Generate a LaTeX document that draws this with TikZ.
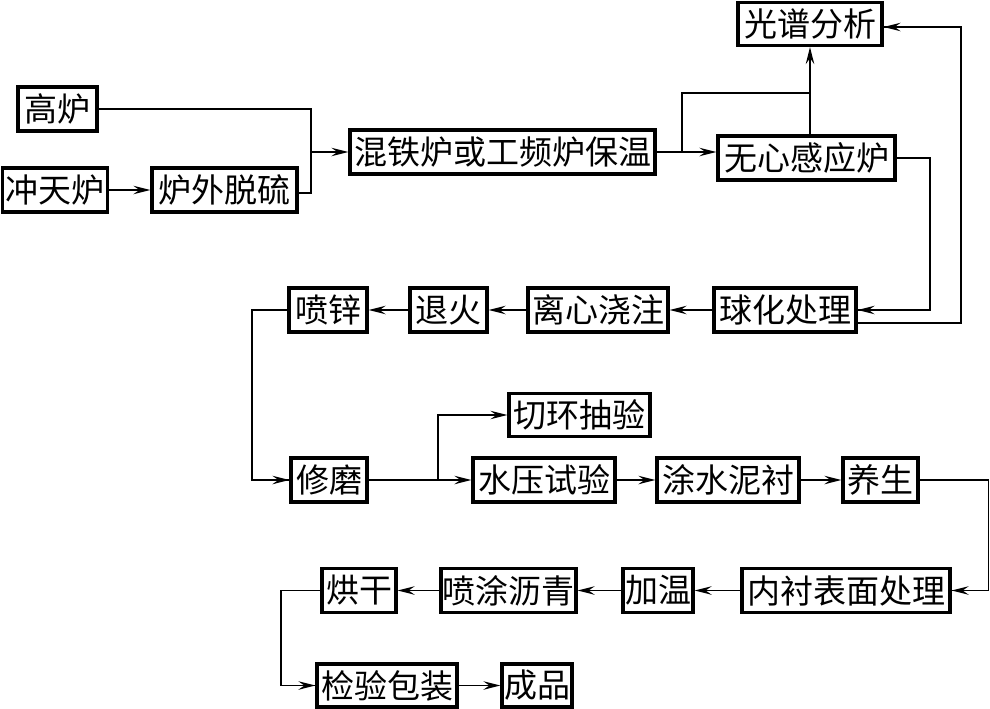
\documentclass[tikz,border=0pt]{standalone}
\usepackage{fontspec}
\newfontfamily\cjk{Noto Sans CJK SC}
\usetikzlibrary{arrows.meta,calc}
\begin{document}
\begin{tikzpicture}[x=1pt,y=-1pt,
  box/.style={draw, line width=3.2pt, minimum height=44pt, inner sep=0pt,
    font=\cjk\fontsize{33}{33}\selectfont},
  conn/.style={line width=1.8pt},
  thinc/.style={line width=1.2pt},
  arr/.style={-{Stealth[length=17pt,width=8.5pt,inset=6pt]}}]
\useasboundingbox (0,0) rectangle (990,709);
% nodes
\node[box, minimum width=79pt]  (gaolu)     at (57.5,109)   {高炉};
\node[box, minimum width=105pt] (chongtian) at (55,190)     {冲天炉};
\node[box, minimum width=145pt] (tuoliu)    at (224.5,190)  {炉外脱硫};
\node[box, minimum width=305pt] (huntie)    at (502.5,152)  {混铁炉或工频炉保温};
\node[box, minimum width=144pt, minimum height=43pt] (guangpu) at (810,24) {光谱分析};
\node[box, minimum width=177pt] (wuxin)     at (806.5,158)  {无心感应炉};
\node[box, minimum width=142pt] (qiuhua)    at (785,310)    {球化处理};
\node[box, minimum width=140pt] (lixin)     at (598,310)    {离心浇注};
\node[box, minimum width=77pt]  (tuihuo)    at (448.5,310)  {退火};
\node[box, minimum width=78pt]  (penxin)    at (328,310)    {喷锌};
\node[box, minimum width=76pt]  (xiumo)     at (329,480)    {修磨};
\node[box, minimum width=141pt, minimum height=43pt] (qiehuan) at (579.5,415) {切环抽验};
\node[box, minimum width=142pt] (shuiya)    at (544,480)    {水压试验};
\node[box, minimum width=142pt] (tushui)    at (728,480)    {涂水泥衬};
\node[box, minimum width=75pt]  (yangsheng) at (880.5,480)  {养生};
\node[box, minimum width=208pt] (neichen)   at (846,590.5)  {内衬表面处理};
\node[box, minimum width=70pt]  (jiawen)    at (658,590.5)  {加温};
\node[box, minimum width=135pt] (penlq)     at (508.5,590.5){喷涂沥青};
\node[box, minimum width=74pt]  (honggan)   at (359,590.5)  {烘干};
\node[box, minimum width=140pt, minimum height=43pt] (jianyan) at (387,685.5) {检验包装};
\node[box, minimum width=70pt, minimum height=43pt]  (chengpin) at (537,685.5) {成品};
% junction coordinates
\coordinate (j1) at (311,152);
\coordinate (j2) at (682,152);
\coordinate (j3) at (810,93);
\coordinate (j4) at (930,158);
\coordinate (j5) at (961,323);
\coordinate (j6) at (252,310);
\coordinate (j7) at (438,480);
\coordinate (j8) at (988.5,480);
\coordinate (j9) at (281,590.5);
% connectors
\draw[thinc] (gaolu.east) -| (j1);
\draw[thinc] ($(tuoliu.east)+(0,3)$) -| (j1);
\draw[conn,arr] (j1) -- (huntie.west);
\draw[conn,arr] (chongtian.east) -- (tuoliu.west);
\draw[conn,arr] (huntie.east) -- (huntie.east -| wuxin.west);
\draw[thinc] (j2) |- (j3);
\draw[conn,arr] (wuxin.north -| guangpu.south) -- (guangpu.south);
\draw[thinc] (wuxin.east) -| (j4) |- (qiuhua.east);
\draw[conn,arr] (j4 |- qiuhua.east) -- (qiuhua.east);
\draw[conn] (qiuhua.east |- j5) -- (j5) |- ($(guangpu.east)+(0,3)$);
\draw[conn,arr] (j5 |- 0,27) -- ($(guangpu.east)+(0,3)$);
\draw[conn,arr] (qiuhua.west) -- (lixin.east);
\draw[conn,arr] (lixin.west) -- (tuihuo.east);
\draw[conn,arr] (tuihuo.west) -- (penxin.east);
\draw[conn] (penxin.west) -- (j6) |- (xiumo.west);
\draw[conn,arr] (j6 |- xiumo.west) -- (xiumo.west);
\draw[conn,arr] (xiumo.east) -- (shuiya.west);
\draw[thinc,arr] (j7) |- (qiehuan.west);
\draw[conn,arr] (shuiya.east) -- (tushui.west);
\draw[conn,arr] (tushui.east) -- (yangsheng.west);
\draw[conn] (yangsheng.east) -- (j8) |- (neichen.east);
\draw[conn,arr] (j8 |- neichen.east) -- (neichen.east);
\draw[conn,arr] (neichen.west) -- (jiawen.east);
\draw[conn,arr] (jiawen.west) -- (penlq.east);
\draw[conn,arr] (penlq.west) -- (honggan.east);
\draw[conn] (honggan.west) -- (j9) |- (jianyan.west);
\draw[conn,arr] (j9 |- jianyan.west) -- (jianyan.west);
\draw[conn,arr] (jianyan.east) -- (chengpin.west);
\end{tikzpicture}
\end{document}
